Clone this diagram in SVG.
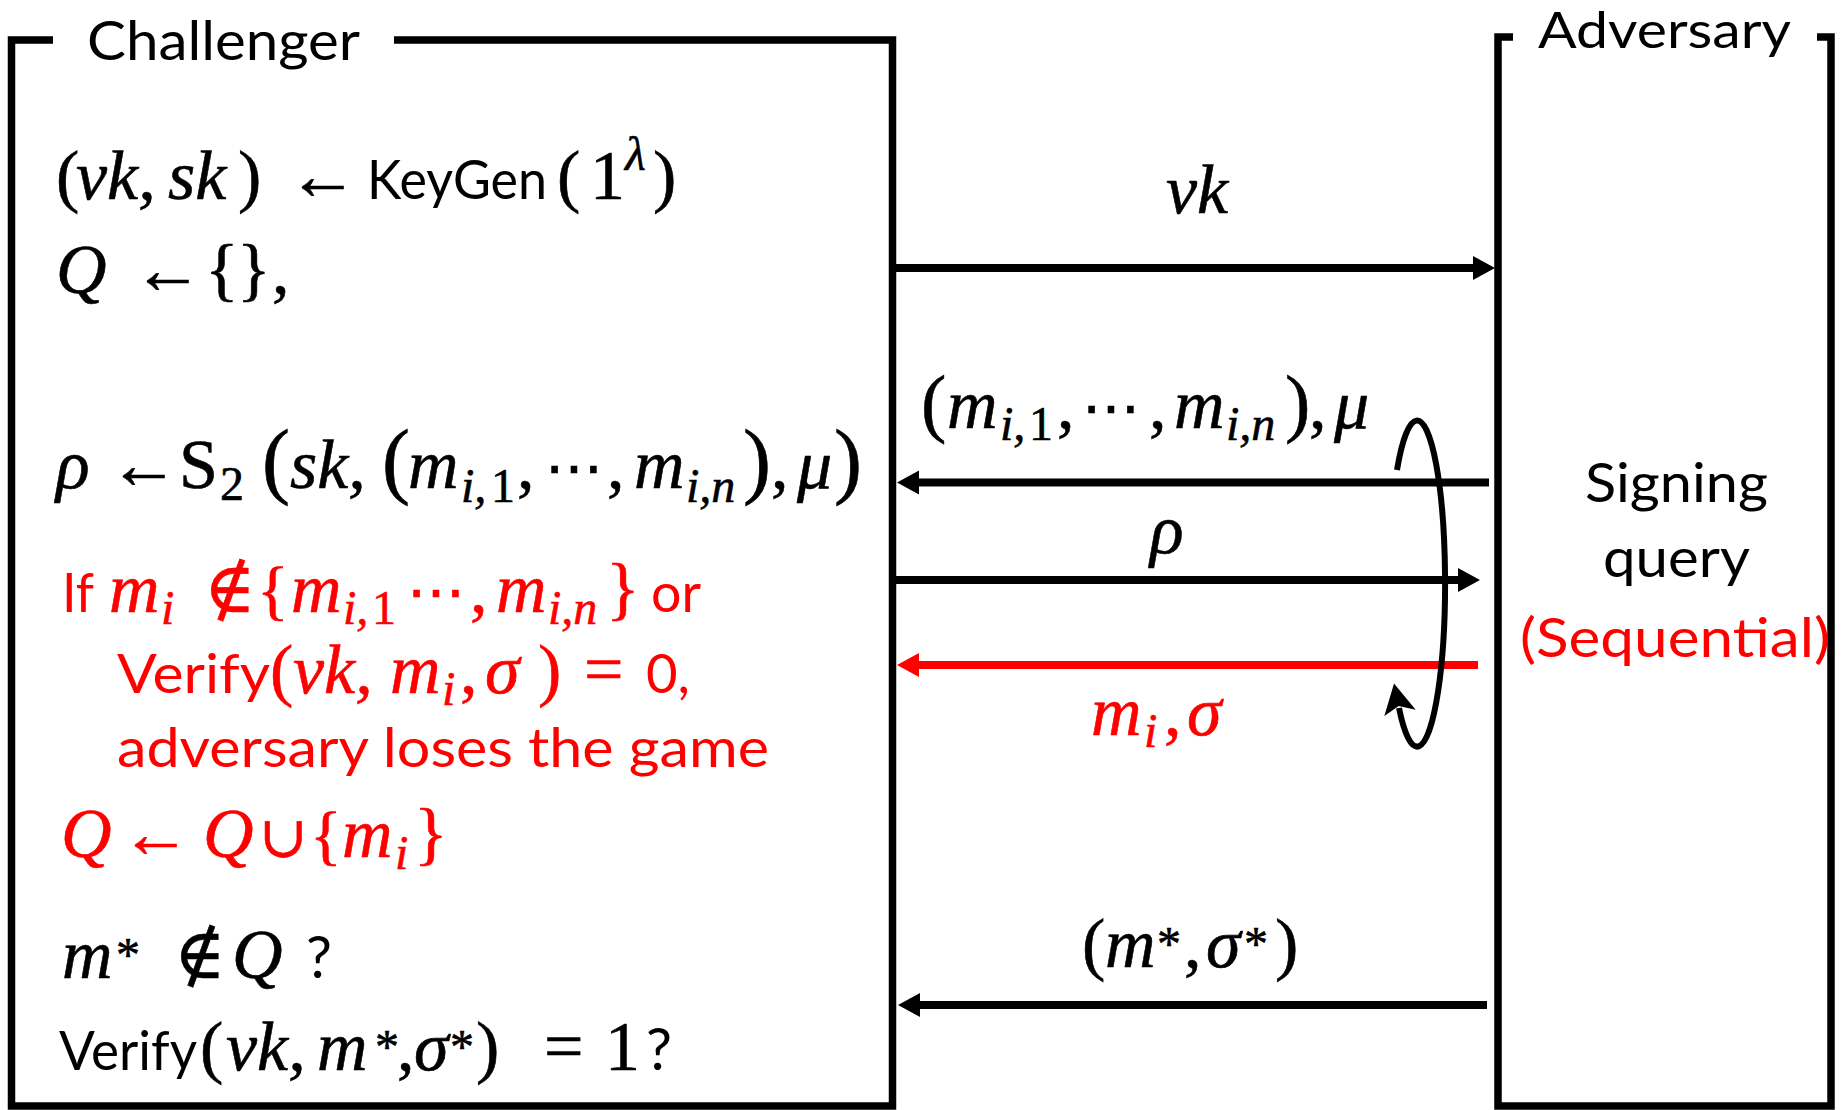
<svg xmlns="http://www.w3.org/2000/svg" width="1841" height="1110" viewBox="0 0 1841 1110">
<style>
.box{fill:none;stroke:#000;stroke-width:7.5}
.sans{font-family:Lato,'Open Sans','DejaVu Sans',sans-serif;font-size:55px;fill:#000}
.m{font-family:'Liberation Serif','DejaVu Serif',serif;font-style:italic;font-size:70px;fill:#000;stroke:#000;stroke-width:0.6}
.m.red{stroke:#f00}
.u{font-style:normal}
.sub{font-size:48px}
.dots{font-size:58px}
.red{fill:#f00}
.conn{stroke:#000;stroke-width:8;fill:none}
.connr{stroke:#f00;stroke-width:8;fill:none}
</style>
<defs>
<marker id="ah" markerUnits="userSpaceOnUse" markerWidth="24" markerHeight="26" viewBox="0 0 24 26" refX="1" refY="13" orient="auto"><path d="M0,1 L22,13 L0,25 z" fill="#000"/></marker>
<marker id="ahr" markerUnits="userSpaceOnUse" markerWidth="24" markerHeight="26" viewBox="0 0 24 26" refX="1" refY="13" orient="auto"><path d="M0,1 L22,13 L0,25 z" fill="#f00"/></marker>
<marker id="lh" markerUnits="userSpaceOnUse" markerWidth="34" markerHeight="36" viewBox="0 0 34 36" refX="5" refY="18" orient="auto"><path d="M0,2 L30,18 L0,34 L7,18 z" fill="#000"/></marker>
</defs>
<rect width="1841" height="1110" fill="#fff"/>

<g id="challenger">
<path class="box" d="M53,40 H11.5 V1106 H892.5 V40 H394"/>
<text class="sans" x="87" y="60" textLength="273" lengthAdjust="spacingAndGlyphs">Challenger</text>
<text class="m" y="199"><tspan class="u" x="56">(</tspan><tspan x="76">vk,</tspan><tspan x="168">sk</tspan><tspan class="u" x="238">)</tspan><tspan class="u" x="288">←</tspan></text>
<text class="sans" x="367" y="199" textLength="180" lengthAdjust="spacingAndGlyphs">KeyGen</text>
<text class="m"><tspan class="u" x="557" y="199">(</tspan><tspan class="u" x="590" y="199">1</tspan><tspan class="sub" x="625" y="170">λ</tspan><tspan class="u" x="653" y="199">)</tspan></text>
<text class="m" y="293"><tspan x="56">Q</tspan><tspan class="u" x="133">←</tspan><tspan class="u" x="205">{</tspan><tspan class="u" x="237">}</tspan><tspan class="u" x="272">,</tspan></text>

<text class="m"><tspan x="56" y="488">ρ</tspan><tspan class="u" x="109" y="488">←</tspan><tspan class="u" x="179" y="488">S</tspan><tspan class="u sub" x="220" y="500">2</tspan><tspan class="u" x="262" y="488" style="font-size:84px">(</tspan><tspan x="290" y="488">sk,</tspan><tspan class="u" x="382" y="488" style="font-size:84px">(</tspan><tspan x="408" y="488">m</tspan><tspan class="sub" x="461" y="502">i,</tspan><tspan class="sub u" x="491" y="502">1</tspan><tspan class="u" x="517" y="488">,</tspan><tspan class="u dots" x="545" y="488">⋯</tspan><tspan class="u" x="607" y="488">,</tspan><tspan x="634" y="488">m</tspan><tspan class="sub" x="686" y="502">i,n</tspan><tspan class="u" x="743" y="488" style="font-size:84px">)</tspan><tspan class="u" x="771" y="488">,</tspan><tspan x="797" y="488">μ</tspan><tspan class="u" x="834" y="488" style="font-size:84px">)</tspan></text>

<text class="sans red" x="62" y="612" textLength="32" lengthAdjust="spacingAndGlyphs">If</text>
<text class="m red"><tspan x="109" y="612">m</tspan><tspan class="sub" x="161" y="624">i</tspan><tspan class="u" x="204" y="612">∉</tspan><tspan class="u" x="257" y="612" style="font-size:66px">{</tspan><tspan x="291" y="612">m</tspan><tspan class="sub" x="343" y="624">i,</tspan><tspan class="sub u" x="372" y="624">1</tspan><tspan class="u dots" x="407" y="612">⋯</tspan><tspan class="u" x="470" y="612">,</tspan><tspan x="496" y="612">m</tspan><tspan class="sub" x="548" y="624">i,n</tspan><tspan class="u" x="606" y="612">}</tspan></text>
<text class="sans red" x="651" y="612" textLength="50" lengthAdjust="spacingAndGlyphs">or</text>

<text class="sans red" x="117" y="693" textLength="153" lengthAdjust="spacingAndGlyphs">Verify</text>
<text class="m red"><tspan class="u" x="270" y="693">(</tspan><tspan x="293" y="693">vk,</tspan><tspan x="390" y="693">m</tspan><tspan class="sub" x="442" y="705">i</tspan><tspan class="u" x="460" y="693">,</tspan><tspan x="485" y="693">σ</tspan><tspan class="u" x="538" y="693">)</tspan><tspan class="u" x="584" y="693">=</tspan></text>
<text class="sans red" x="646" y="693" textLength="44" lengthAdjust="spacingAndGlyphs">0,</text>
<text class="sans red" x="117" y="767" textLength="652" lengthAdjust="spacingAndGlyphs">adversary loses the game</text>

<text class="m red"><tspan x="61" y="857">Q</tspan><tspan class="u" x="121" y="857">←</tspan><tspan x="203" y="857">Q</tspan><tspan class="u" x="259" y="857" style="font-size:58px">∪</tspan><tspan class="u" x="310" y="857" style="font-size:66px">{</tspan><tspan x="342" y="857">m</tspan><tspan class="sub" x="395" y="869">i</tspan><tspan class="u" x="414" y="857">}</tspan></text>

<text class="m"><tspan x="62" y="978">m</tspan><tspan class="u sub" x="116" y="971">*</tspan><tspan class="u" x="174" y="978">∉</tspan><tspan x="232" y="978">Q</tspan></text>
<text class="sans" x="306" y="978" style="font-size:58px">?</text>

<text class="sans" x="59" y="1070" textLength="138" lengthAdjust="spacingAndGlyphs">Verify</text>
<text class="m"><tspan class="u" x="200" y="1070">(</tspan><tspan x="226" y="1070">vk,</tspan><tspan x="317" y="1070">m</tspan><tspan class="u sub" x="375" y="1063">*</tspan><tspan class="u" x="397" y="1070">,</tspan><tspan x="414" y="1070">σ</tspan><tspan class="u sub" x="450" y="1063">*</tspan><tspan class="u" x="476" y="1070">)</tspan><tspan class="u" x="544" y="1070">=</tspan><tspan class="u" x="605" y="1070">1</tspan></text>
<text class="sans" x="646" y="1070" style="font-size:58px">?</text>
</g>

<g id="adversary">
<path class="box" d="M1513,37 H1498 V1106 H1831 V37 H1817"/>
<text class="sans" x="1538" y="48" textLength="253" lengthAdjust="spacingAndGlyphs" style="font-size:50px">Adversary</text>
<text class="sans" x="1585" y="502" textLength="183" lengthAdjust="spacingAndGlyphs">Signing</text>
<text class="sans" x="1603" y="577" textLength="147" lengthAdjust="spacingAndGlyphs">query</text>
<text class="sans red" x="1520" y="657" textLength="310" lengthAdjust="spacingAndGlyphs">(Sequential)</text>
</g>

<g id="connectors">
<line class="conn" x1="892" y1="268" x2="1474" y2="268" marker-end="url(#ah)"/>
<line class="conn" x1="1489" y1="482.5" x2="918" y2="482.5" marker-end="url(#ah)"/>
<line class="conn" x1="892" y1="580" x2="1459" y2="580" marker-end="url(#ah)"/>
<line class="connr" x1="1478" y1="665" x2="918" y2="665" marker-end="url(#ahr)"/>
<line class="conn" x1="1487" y1="1005" x2="919" y2="1005" marker-end="url(#ah)"/>
<path id="loop" d="M1397,470 A28,163 0 1 1 1399,708" style="stroke:#000;stroke-width:6;fill:none" marker-end="url(#lh)"/>
</g>

<g id="labels">
<text class="m" x="1166" y="213">vk</text>
<text class="m"><tspan class="u" x="921" y="428" style="font-size:76px">(</tspan><tspan x="947" y="428">m</tspan><tspan class="sub" x="1000" y="440">i,</tspan><tspan class="sub u" x="1029" y="440">1</tspan><tspan class="u" x="1057" y="428">,</tspan><tspan class="u dots" x="1082" y="428">⋯</tspan><tspan class="u" x="1149" y="428">,</tspan><tspan x="1174" y="428">m</tspan><tspan class="sub" x="1226" y="440">i,n</tspan><tspan class="u" x="1285" y="428" style="font-size:76px">)</tspan><tspan class="u" x="1309" y="428">,</tspan><tspan x="1334" y="428">μ</tspan></text>
<text class="m" x="1150" y="553">ρ</text>
<text class="m red"><tspan x="1091" y="735">m</tspan><tspan class="sub" x="1144" y="747">i</tspan><tspan class="u" x="1164" y="735">,</tspan><tspan x="1187" y="735">σ</tspan></text>
<text class="m"><tspan class="u" x="1082" y="967">(</tspan><tspan x="1105" y="967">m</tspan><tspan class="u sub" x="1157" y="960">*</tspan><tspan class="u" x="1184" y="967">,</tspan><tspan x="1206" y="967">σ</tspan><tspan class="u sub" x="1244" y="960">*</tspan><tspan class="u" x="1275" y="967">)</tspan></text>
</g>
</svg>
